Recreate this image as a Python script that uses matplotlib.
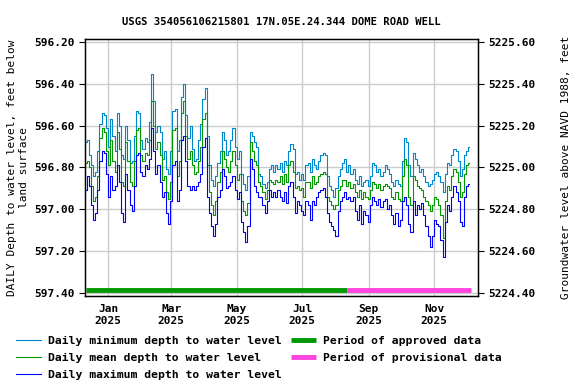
import numpy as np
import pandas as pd
import matplotlib
matplotlib.use('Agg')
import matplotlib.pyplot as plt
import matplotlib.dates as mdates
from matplotlib.ticker import FixedLocator, FormatStrFormatter

plt.rcParams['font.family'] = 'DejaVu Sans Mono'
plt.rcParams['font.weight'] = 'bold'

title = 'USGS 354056106215801 17N.05E.24.344 DOME ROAD WELL'
datum_offset = 5821.80  # elevation = datum_offset - depth

# depth to water, feet below land surface, every 2 days from 2024-12-11
start_date = '2024-12-11'
depth_min = [
    596.68, 596.67, 596.74, 596.79, 596.84, 596.82, 596.72, 596.59, 596.54, 596.55,
    596.61, 596.70, 596.57, 596.65, 596.72, 596.54, 596.60, 596.74, 596.76, 596.60,
    596.67, 596.78, 596.77, 596.65, 596.53, 596.54, 596.67, 596.71, 596.66, 596.68,
    596.58, 596.35, 596.48, 596.63, 596.60, 596.63, 596.76, 596.72, 596.81, 596.83,
    596.72, 596.53, 596.52, 596.72, 596.67, 596.46, 596.40, 596.55, 596.66, 596.60,
    596.71, 596.77, 596.76, 596.67, 596.59, 596.47, 596.42, 596.65, 596.79, 596.86,
    596.89, 596.84, 596.78, 596.72, 596.63, 596.67, 596.74, 596.72, 596.67, 596.61,
    596.70, 596.76, 596.72, 596.83, 596.88, 596.91, 596.84, 596.63, 596.65, 596.68,
    596.70, 596.83, 596.84, 596.88, 596.90, 596.87, 596.81, 596.79, 596.82, 596.79,
    596.81, 596.78, 596.82, 596.77, 596.79, 596.72, 596.69, 596.71, 596.83, 596.82,
    596.86, 596.83, 596.86, 596.79, 596.78, 596.82, 596.76, 596.79, 596.81, 596.77,
    596.74, 596.73, 596.74, 596.84, 596.89, 596.91, 596.94, 596.90, 596.84, 596.81,
    596.78, 596.76, 596.82, 596.79, 596.83, 596.81, 596.86, 596.88, 596.84, 596.89,
    596.87, 596.86, 596.89, 596.84, 596.78, 596.79, 596.82, 596.81, 596.84, 596.82,
    596.79, 596.81, 596.83, 596.87, 596.89, 596.86, 596.88, 596.89, 596.77, 596.66,
    596.68, 596.79, 596.84, 596.73, 596.76, 596.79, 596.82, 596.81, 596.84, 596.87,
    596.89, 596.88, 596.86, 596.83, 596.82, 596.84, 596.87, 596.92, 596.83, 596.78,
    596.79, 596.74, 596.71, 596.72, 596.77, 596.84, 596.81, 596.74, 596.72, 596.70,
]
depth_mean = [
    596.78, 596.77, 596.80, 596.89, 596.96, 596.94, 596.84, 596.66, 596.61, 596.63,
    596.72, 596.79, 596.67, 596.77, 596.82, 596.63, 596.71, 596.87, 596.89, 596.68,
    596.77, 596.87, 596.89, 596.77, 596.62, 596.61, 596.74, 596.77, 596.73, 596.74,
    596.67, 596.48, 596.60, 596.71, 596.68, 596.74, 596.86, 596.84, 596.92, 596.95,
    596.87, 596.62, 596.61, 596.84, 596.77, 596.54, 596.48, 596.65, 596.76, 596.72,
    596.79, 596.83, 596.82, 596.77, 596.70, 596.57, 596.54, 596.79, 596.92, 596.98,
    597.03, 596.96, 596.87, 596.82, 596.72, 596.76, 596.80, 596.82, 596.77, 596.72,
    596.79, 596.86, 596.83, 596.96, 597.01, 597.03, 596.97, 596.68, 596.72, 596.77,
    596.79, 596.87, 596.89, 596.92, 596.95, 596.91, 596.86, 596.87, 596.88, 596.86,
    596.87, 596.84, 596.88, 596.83, 596.87, 596.79, 596.77, 596.82, 596.90, 596.89,
    596.91, 596.90, 596.94, 596.87, 596.87, 596.90, 596.84, 596.88, 596.87, 596.84,
    596.83, 596.82, 596.83, 596.94, 596.96, 596.98, 597.00, 596.98, 596.91, 596.89,
    596.86, 596.86, 596.89, 596.87, 596.90, 596.88, 596.92, 596.94, 596.91, 596.95,
    596.92, 596.94, 596.95, 596.91, 596.87, 596.88, 596.90, 596.88, 596.91, 596.89,
    596.88, 596.89, 596.90, 596.94, 596.95, 596.92, 596.95, 596.96, 596.84, 596.76,
    596.79, 596.94, 596.98, 596.84, 596.86, 596.89, 596.90, 596.91, 596.94, 596.96,
    596.98, 597.01, 596.98, 596.94, 596.95, 596.98, 597.03, 597.14, 596.96, 596.89,
    596.91, 596.84, 596.81, 596.82, 596.87, 596.94, 596.92, 596.83, 596.79, 596.78,
]
depth_max = [
    596.91, 596.84, 596.89, 596.98, 597.05, 597.02, 596.91, 596.77, 596.72, 596.73,
    596.83, 596.94, 596.84, 596.91, 596.89, 596.79, 596.87, 597.02, 597.06, 596.83,
    596.91, 596.98, 597.01, 596.89, 596.74, 596.73, 596.82, 596.84, 596.79, 596.81,
    596.76, 596.61, 596.72, 596.83, 596.79, 596.87, 596.94, 596.92, 597.02, 597.07,
    596.96, 596.79, 596.77, 596.96, 596.91, 596.67, 596.65, 596.77, 596.89, 596.91,
    596.89, 596.91, 596.89, 596.87, 596.83, 596.70, 596.66, 596.94, 597.02, 597.08,
    597.13, 597.07, 596.94, 596.91, 596.81, 596.84, 596.90, 596.89, 596.87, 596.84,
    596.91, 596.95, 596.92, 597.06, 597.11, 597.16, 597.08, 596.76, 596.81, 596.89,
    596.92, 596.94, 596.94, 596.98, 597.02, 596.96, 596.91, 596.94, 596.92, 596.94,
    596.91, 596.94, 596.96, 596.92, 596.97, 596.89, 596.87, 596.94, 597.02, 596.96,
    596.98, 597.01, 597.03, 596.96, 596.98, 597.05, 596.96, 596.98, 596.94, 596.92,
    596.91, 596.90, 596.94, 597.02, 597.06, 597.08, 597.10, 597.13, 597.01, 596.96,
    596.94, 596.92, 596.95, 596.94, 596.96, 596.94, 597.01, 597.05, 596.98, 597.07,
    597.01, 597.03, 597.06, 596.98, 596.94, 596.96, 596.98, 596.95, 596.99, 596.96,
    596.95, 597.00, 596.98, 597.03, 597.07, 597.02, 597.08, 597.05, 596.96, 596.94,
    596.98, 597.07, 597.11, 596.96, 597.03, 596.98, 597.00, 596.97, 597.03, 597.08,
    597.13, 597.18, 597.13, 597.05, 597.07, 597.08, 597.15, 597.23, 597.06, 596.98,
    597.01, 596.94, 596.89, 596.92, 596.96, 597.06, 597.08, 596.94, 596.89, 596.88,
]

approved_end = '2025-08-12'
provisional_end = '2025-12-05'
tick_months = ['2025-01-01', '2025-03-01', '2025-05-01', '2025-07-01', '2025-09-01', '2025-11-01']

dates = pd.date_range(start_date, periods=len(depth_mean), freq='2D')

fig = plt.figure(figsize=(5.76, 3.84), dpi=100)
ax = fig.add_axes([0.1476, 0.229, 0.6823, 0.669])

ax.plot(dates, depth_min, color='#0088cc', lw=0.8, drawstyle='steps-mid',
        label='Daily minimum depth to water level')
ax.plot(dates, depth_mean, color='#009900', lw=0.8, drawstyle='steps-mid',
        label='Daily mean depth to water level')
ax.plot(dates, depth_max, color='#0000ff', lw=0.8, drawstyle='steps-mid',
        label='Daily maximum depth to water level')

bar_y = 597.39
ax.plot([dates[0], pd.Timestamp(approved_end)], [bar_y, bar_y], color='#009900', lw=3.5,
        solid_capstyle='butt', label='Period of approved data')
ax.plot([pd.Timestamp(approved_end), pd.Timestamp(provisional_end)], [bar_y, bar_y],
        color='#ff44dd', lw=3.5, solid_capstyle='butt', label='Period of provisional data')

ylo, yhi = 597.417, 596.185
ax.set_ylim(ylo, yhi)
ax.set_xlim(pd.Timestamp('2024-12-10 12:00'), pd.Timestamp('2025-12-12'))

ax.yaxis.set_major_locator(FixedLocator(np.arange(596.2, 597.41, 0.2)))
ax.yaxis.set_major_formatter(FormatStrFormatter('%.2f'))
ax.set_xticks([pd.Timestamp(t) for t in tick_months])
ax.xaxis.set_major_formatter(mdates.DateFormatter('%b\n%Y'))
ax.grid(True, color='#cccccc', lw=1)
ax.set_axisbelow(True)
ax.tick_params(axis='x', length=0, pad=6, labelsize=8)
ax.tick_params(axis='y', length=4, labelsize=8)
for s in ax.spines.values():
    s.set_linewidth(1)

ax.set_ylabel('DAILY Depth to water level, feet below\nland surface', fontsize=8, labelpad=4)
ax.set_title(title, fontsize=7.6, fontweight='bold', pad=10)

ax2 = ax.twinx()
ax2.set_ylim(datum_offset - ylo, datum_offset - yhi)
ax2.yaxis.set_major_locator(FixedLocator(np.arange(5224.4, 5225.61, 0.2)))
ax2.yaxis.set_major_formatter(FormatStrFormatter('%.2f'))
ax2.tick_params(axis='y', length=4, labelsize=8)
ax2.set_ylabel('Groundwater level above NAVD 1988, feet', fontsize=8, labelpad=18)

handles, labels = ax.get_legend_handles_labels()
fig.legend(handles, labels, ncol=2, loc='upper left', bbox_to_anchor=(0.02, 0.137),
           frameon=False, fontsize=8.2, handlelength=2.2, handletextpad=0.6,
           columnspacing=0.8, labelspacing=0.62, borderaxespad=0)

fig.savefig('out.png', dpi=100)
